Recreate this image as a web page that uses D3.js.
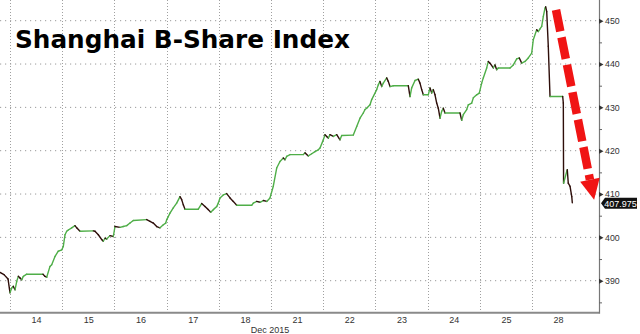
<!DOCTYPE html>
<html>
<head>
<style>
body { margin: 0; background: #fff; }
svg { display: block; }
.tick text { font-family: "Liberation Sans", Arial, sans-serif; }
</style>
</head>
<body>
<svg id="chart"></svg>
<script src="https://cdnjs.cloudflare.com/ajax/libs/d3/7.8.5/d3.min.js"></script>
<script>
// trading days since Dec 14 open, and index level
const sessionTime = [
  -0.19,-0.115,-0.038,0.0,0.033,0.063,0.096,0.128,0.159,0.192,0.224,0.255,0.32,0.632,0.67,0.703,0.766,0.799,0.862,0.925,0.99,
  1.021,1.054,1.086,1.117,1.182,1.245,1.278,1.341,1.596,1.628,1.692,1.757,1.787,1.82,1.852,1.916,1.979,
  2.011,2.107,2.17,2.236,2.299,2.362,2.619,2.682,2.745,2.81,2.874,2.937,2.983,
  3.002,3.033,3.065,3.128,3.193,3.257,3.289,3.32,3.352,3.607,3.672,3.736,3.799,3.845,3.895,3.96,3.99,
  4.023,4.086,4.151,4.215,4.278,4.343,4.63,4.661,4.726,4.789,4.853,4.918,4.981,
  5.044,5.109,5.172,5.236,5.268,5.301,5.364,5.619,5.651,5.715,5.78,5.843,5.906,5.939,
  6.002,6.034,6.067,6.098,6.13,6.194,6.259,6.322,6.354,6.577,6.642,6.705,6.768,6.801,6.833,6.897,6.929,
  7.025,7.056,7.088,7.121,7.151,7.216,7.247,7.28,7.343,7.63,7.663,7.695,7.759,7.822,7.854,7.887,7.918,8.013,
  8.046,8.079,8.109,8.142,8.174,8.205,8.238,8.27,8.301,8.333,8.621,8.653,8.684,8.749,8.78,8.845,8.876,8.94,8.99,
  9.036,9.067,9.132,9.163,9.195,9.259,9.291,9.324,9.354,9.579,9.642,9.707,9.757,9.803,9.866,9.929,9.994,
  10.025,10.09,10.121,10.153,10.186,10.217,10.249,10.262,10.282,10.312,10.345,10.588,10.6,10.605,10.665,10.676,10.695,10.728,10.762,10.772
];
const indexValue = [
  391.9,391.4,390.4,387.2,388.3,388.7,387.9,389.8,391.0,390.6,390.2,391.0,391.5,391.5,391.0,390.8,393.3,393.7,395.6,396.8,397.1,
  397.9,400.6,401.4,401.7,402.2,402.7,402.2,401.4,401.5,401.4,400.6,399.5,399.1,399.8,399.6,400.4,400.2,
  402.5,402.3,402.5,402.7,403.3,403.9,404.1,403.7,403.3,402.5,402.2,402.9,403.3,
  404.1,404.8,405.6,406.8,407.9,409.4,408.7,407.5,406.5,406.5,407.8,407.1,406.4,405.8,406.4,407.1,407.9,
  409.1,409.8,410.1,409.1,408.3,407.4,407.4,407.9,408.3,408.1,408.5,408.3,409.1,
  411.8,416.0,417.5,418.3,417.9,418.7,419.1,419.1,419.5,418.8,419.3,419.8,420.2,420.6,
  422.5,423.7,423.3,422.9,423.7,423.3,423.7,422.5,423.5,423.6,425.6,427.5,428.7,429.5,429.8,430.6,431.8,
  434.1,435.2,436.0,434.8,435.6,436.8,436.0,434.8,435.0,435.0,432.5,434.5,436.2,436.5,435.6,434.1,432.9,432.9,
  434.5,433.3,434.1,432.9,431.0,429.8,427.5,429.1,429.8,428.7,428.7,427.0,428.3,429.5,430.6,431.0,432.2,432.9,433.3,
  435.6,436.8,439.1,440.6,440.2,439.1,439.8,438.7,439.1,439.1,439.8,441.2,441.4,440.2,440.6,441.4,442.5,
  445.6,447.9,447.5,448.1,448.7,451.0,452.9,453.2,452.1,444.1,432.5,432.5,431.0,412.5,415.2,415.6,412.5,411.8,409.4,407.975
];
const dayLabels = ["14","15","16","17","18","21","22","23","24","25","28"];
const monthLabel = "Dec 2015";
const yTicks = [390, 400, 410, 420, 430, 440, 450];
const yMinorTicks = [385, 395, 405, 415, 425, 435, 445];
const lastValue = 407.975;
const title = "Shanghai B-Share Index";
// red arrow annotation: [time, value] for start, shaft end, tip
const arrowPts = [[10.46, 452.5], [11.11, 413.3], [11.19, 408.7]];

const width = 640, height = 334;
const plotRight = 599, plotBottom = 312.7;

const svg = d3.select('#chart').attr('width', width).attr('height', height);

const x = d3.scaleLinear().domain([0, 11]).range([10, 584.2]);
const y = d3.scaleLinear().domain([390, 450]).range([280.7, 20.7]);

svg.append('clipPath').attr('id', 'plotclip')
  .append('rect').attr('x', 0).attr('y', 0).attr('width', plotRight).attr('height', plotBottom);

// grid
const grid = svg.append('g');
grid.selectAll('.hg').data(yTicks).enter().append('line')
  .attr('x1', 0).attr('x2', plotRight)
  .attr('y1', d => y(d)).attr('y2', d => y(d))
  .attr('stroke', '#9a9a9a').attr('stroke-width', 1)
  .attr('stroke-dasharray', '1.2,3.8');
grid.selectAll('.vg').data(d3.range(0, dayLabels.length)).enter().append('line')
  .attr('x1', d => Math.round(x(d)) + 0.5).attr('x2', d => Math.round(x(d)) + 0.5)
  .attr('y1', 0).attr('y2', plotBottom)
  .attr('stroke', '#a0a0a0').attr('stroke-width', 1)
  .attr('stroke-dasharray', '1,2');

// title
const t = svg.append('text')
  .attr('x', 15).attr('y', 48)
  .style('font-family', '"DejaVu Sans", Verdana, sans-serif')
  .style('font-weight', 'bold').style('font-size', '23px')
  .attr('fill', '#000').text(title);
const tw = t.node().getComputedTextLength();
t.style('font-size', (23 * 335 / tw).toFixed(2) + 'px');

// price line, coloured by tick direction
const pts = sessionTime.map((d, i) => [d, indexValue[i]]);
const segs = d3.pairs(pts);
svg.append('g').attr('clip-path', 'url(#plotclip)')
  .selectAll('line').data(segs).enter().append('line')
  .attr('x1', d => x(d[0][0])).attr('y1', d => y(d[0][1]))
  .attr('x2', d => x(d[1][0])).attr('y2', d => y(d[1][1]))
  .attr('stroke', d => d[1][1] >= d[0][1] ? '#4fae48' : '#2e0e0a')
  .attr('stroke-width', 1.4)
  .attr('stroke-linecap', 'round');

// bottom axis
svg.append('line').attr('x1', 0).attr('x2', plotRight)
  .attr('y1', plotBottom).attr('y2', plotBottom)
  .attr('stroke', '#8a8a8a').attr('stroke-width', 2);
const xAxis = d3.axisBottom(x)
  .tickValues(dayLabels.map((d, i) => i + 0.5))
  .tickFormat((d, i) => dayLabels[i])
  .tickSize(0).tickPadding(4);
const gx = svg.append('g').attr('transform', `translate(0,${plotBottom})`).call(xAxis);
gx.select('.domain').remove();
gx.selectAll('text').attr('fill', '#333').style('font-size', '9px');
svg.append('text')
  .attr('x', x(4.98)).attr('y', 332.5)
  .attr('text-anchor', 'middle')
  .style('font-family', '"Liberation Sans", Arial, sans-serif')
  .style('font-size', '9px').attr('fill', '#333')
  .text(monthLabel);

// right axis
svg.append('line').attr('x1', plotRight + 0.5).attr('x2', plotRight + 0.5)
  .attr('y1', 0).attr('y2', plotBottom + 1)
  .attr('stroke', '#777').attr('stroke-width', 1.2);
const yAxis = d3.axisRight(y).tickValues(yTicks).tickSize(0).tickPadding(6);
const gy = svg.append('g').attr('transform', `translate(${plotRight},0)`).call(yAxis);
gy.select('.domain').remove();
gy.selectAll('text').attr('fill', '#333').style('font-size', '8.8px');
gy.selectAll('.tick').append('path')
  .attr('d', 'M0,-2.5L4.5,0L0,2.5Z').attr('fill', '#333');
const gyMinor = svg.append('g').attr('transform', `translate(${plotRight},0)`)
  .call(d3.axisRight(y).tickValues(yMinorTicks).tickSize(3).tickFormat(''));
gyMinor.select('.domain').remove();
gyMinor.selectAll('line').attr('stroke', '#666');

// last value tag
const ly = y(lastValue) + 0.5;
svg.append('path')
  .attr('d', `M${plotRight + 2},${ly} L${plotRight + 6},${ly - 5.5} L${plotRight + 38},${ly - 5.5} L${plotRight + 38},${ly + 5.5} L${plotRight + 6},${ly + 5.5} Z`)
  .attr('fill', '#111');
svg.append('text')
  .attr('x', plotRight + 21.5).attr('y', ly + 3.2)
  .attr('text-anchor', 'middle')
  .style('font-family', '"Liberation Sans", Arial, sans-serif')
  .style('font-size', '9px').attr('fill', '#fff')
  .text(lastValue.toFixed(3));

// red dashed arrow
const a0 = [x(arrowPts[0][0]), y(arrowPts[0][1])];
const a1 = [x(arrowPts[1][0]), y(arrowPts[1][1])];
const a2 = [x(arrowPts[2][0]), y(arrowPts[2][1])];
svg.append('line')
  .attr('x1', a0[0]).attr('y1', a0[1]).attr('x2', a1[0]).attr('y2', a1[1])
  .attr('stroke', '#f01414').attr('stroke-width', 8.5)
  .attr('stroke-dasharray', '22,6');
const dx = a2[0] - a1[0], dy = a2[1] - a1[1];
const len = Math.hypot(dx, dy);
const nx = -dy / len * 10, ny = dx / len * 10;
svg.append('path')
  .attr('d', `M${a1[0] + nx},${a1[1] + ny} L${a2[0]},${a2[1]} L${a1[0] - nx},${a1[1] - ny} Z`)
  .attr('fill', '#f01414');
</script>
</body>
</html>
